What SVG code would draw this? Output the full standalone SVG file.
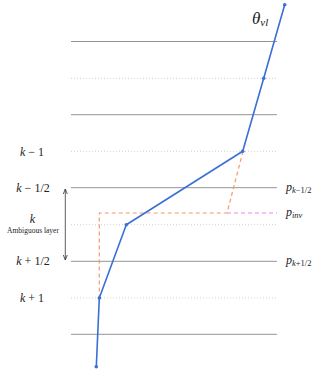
<svg xmlns="http://www.w3.org/2000/svg" width="320" height="371" viewBox="0 0 320 371">
<defs>
<style>
.solid{stroke:#949494;stroke-width:1}
.dot{stroke:#c4c4c4;stroke-width:0.8;stroke-dasharray:1 2}
.lbl{font-family:"Liberation Serif","DejaVu Serif",serif;fill:#222}
.it{font-style:italic}
.blue{stroke:#3a6fd6;stroke-width:1.6;fill:none;stroke-linejoin:round}
.pt{fill:#3a6fd6}
.orange{stroke:#f39a6e;stroke-width:1.2;stroke-dasharray:4 3;fill:none}
.pink{stroke:#e68ae6;stroke-width:1.2;stroke-dasharray:4 3;fill:none}
</style>
<marker id="ah" viewBox="0 0 6 6" refX="5" refY="3" markerWidth="6" markerHeight="6" orient="auto-start-reverse" markerUnits="userSpaceOnUse">
<path d="M0,1 L5,3 L0,5" fill="none" stroke="#333" stroke-width="0.8"/>
</marker>
</defs>
<rect width="320" height="371" fill="#fff"/>
<g id="levels">
<line class="solid" x1="71" y1="41.5" x2="277" y2="41.5"/>
<line class="dot" x1="71" y1="78.3" x2="277" y2="78.3"/>
<line class="solid" x1="71" y1="114.7" x2="277" y2="114.7"/>
<line class="dot" x1="71" y1="151.3" x2="277" y2="151.3"/>
<line class="solid" x1="71" y1="187.7" x2="277" y2="187.7"/>
<line class="dot" x1="71" y1="224.7" x2="277" y2="224.7"/>
<line class="solid" x1="71" y1="261.3" x2="277" y2="261.3"/>
<line class="dot" x1="71" y1="298" x2="277" y2="298"/>
<line class="solid" x1="71" y1="334.3" x2="277" y2="334.3"/>
</g>
<g id="connectors">
<polyline class="orange" points="243,151.3 227,213 99.3,213 99.3,298"/>
<line class="pink" x1="227" y1="213" x2="277" y2="213"/>
<line x1="65.3" y1="189" x2="65.3" y2="260" stroke="#333" stroke-width="0.8" marker-start="url(#ah)" marker-end="url(#ah)"/>
</g>
<g id="profile">
<polyline class="blue" points="284.7,4.7 263.7,78.3 242.7,151.3 126.3,224.7 99.3,298 96.3,366.7"/>
<circle class="pt" cx="284.7" cy="4.7" r="1.8"/>
<circle class="pt" cx="263.7" cy="78.3" r="1.8"/>
<circle class="pt" cx="242.7" cy="151.3" r="1.8"/>
<circle class="pt" cx="126.3" cy="224.7" r="1.8"/>
<circle class="pt" cx="99.3" cy="298" r="1.8"/>
<circle class="pt" cx="96.3" cy="366.7" r="1.8"/>
</g>
<g id="theta-label">
<text class="lbl it" x="252" y="24" style="font-size:17px">θ<tspan style="font-size:11px" dy="2">vl</tspan></text>
</g>
<g id="left-labels">
<text class="lbl" x="32" y="155.5" text-anchor="middle" style="font-size:12px"><tspan class="it">k</tspan> − 1</text>
<text class="lbl" x="33" y="191.5" text-anchor="middle" style="font-size:12px"><tspan class="it">k</tspan> − 1/2</text>
<text class="lbl it" x="32.5" y="222.5" text-anchor="middle" style="font-size:12px">k</text>
<text class="lbl" x="33" y="233" text-anchor="middle" style="font-size:7.5px">Ambiguous layer</text>
<text class="lbl" x="33" y="265" text-anchor="middle" style="font-size:12px"><tspan class="it">k</tspan> + 1/2</text>
<text class="lbl" x="32" y="302" text-anchor="middle" style="font-size:12px"><tspan class="it">k</tspan> + 1</text>
</g>
<g id="right-labels">
<text class="lbl" x="286" y="190.5" style="font-size:12px"><tspan class="it">p</tspan><tspan style="font-size:8.5px" dy="2"><tspan class="it">k</tspan>−1/2</tspan></text>
<text class="lbl" x="286" y="216" style="font-size:12px"><tspan class="it">p</tspan><tspan style="font-size:8.5px" dy="2" class="it">inv</tspan></text>
<text class="lbl" x="286" y="264" style="font-size:12px"><tspan class="it">p</tspan><tspan style="font-size:8.5px" dy="2"><tspan class="it">k</tspan>+1/2</tspan></text>
</g>
</svg>
